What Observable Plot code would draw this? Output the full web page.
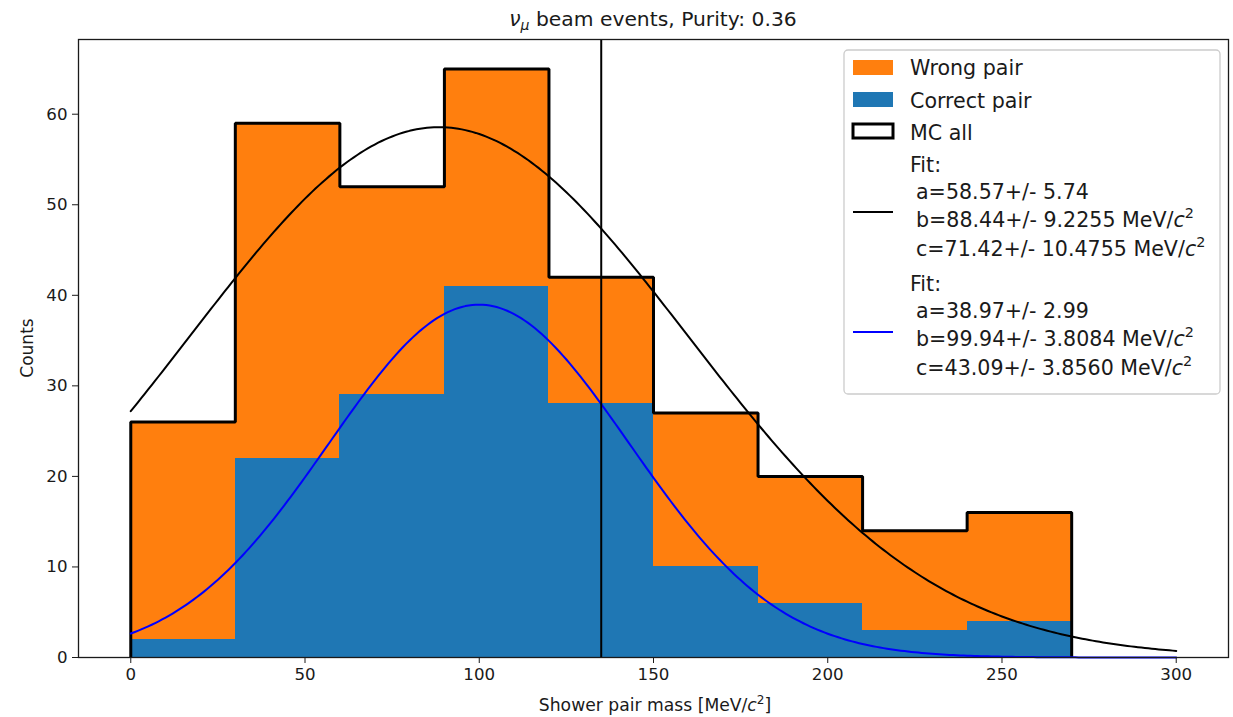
<!DOCTYPE html>
<html><head><meta charset="utf-8">
<script src="https://cdn.jsdelivr.net/npm/d3@7"></script>
<script src="https://cdn.jsdelivr.net/npm/@observablehq/plot@0.6"></script>
<style>
html,body{margin:0;padding:0;background:#fff}
#chart{position:relative;width:1233px;height:717px;font-family:"DejaVu Sans",sans-serif}
#chart > svg{position:absolute;left:0;top:0}
</style></head><body><div id="chart"></div>
<script>
// Histogram bins (MeV/c^2) and counts per bin
const binLow = [0, 30, 60, 90, 120, 150, 180, 210, 240];
const binWidth = 30;
const totalCounts = [26, 59, 52, 65, 42, 27, 20, 14, 16];
const correctCounts = [2, 22, 29, 41, 28, 10, 6, 3, 4];

// Gaussian fit results: a (amplitude), b (mean), c (sigma) with quoted errors
const fitAllParams = [58.57, 88.44, 71.42];
const fitAllErrors = ["5.74", "9.2255", "10.4755"];
const fitCorrectParams = [38.97, 99.94, 43.09];
const fitCorrectErrors = ["2.99", "3.8084", "3.8560"];

const pi0Mass = 135;
const xTicks = [0, 50, 100, 150, 200, 250, 300];
const yTicks = [0, 10, 20, 30, 40, 50, 60];
const purity = "0.36";

const orange = "#ff7f0e", blue = "#1f77b4";

const bins = binLow.map((x, i) => ({x1: x, x2: x + binWidth, total: totalCounts[i], correct: correctCounts[i]}));

// outline of the full MC histogram
const outline = [{x: binLow[0], y: 0}]
  .concat(bins.map(d => ({x: d.x1, y: d.total})))
  .concat([{x: bins[bins.length - 1].x2, y: totalCounts[totalCounts.length - 1]},
           {x: bins[bins.length - 1].x2, y: 0}]);

// fitted Gaussian evaluated over the fit range
function gauss([a, b, c]) {
  return d3.range(0, 300.5, 1).map(x => ({x, y: a * Math.exp(-((x - b) ** 2) / (2 * c * c))}));
}

const plot = Plot.plot({
  width: 1233,
  height: 717,
  marginLeft: 78,
  marginRight: 5,
  marginTop: 39,
  marginBottom: 60,
  style: {fontFamily: "DejaVu Sans, sans-serif", fontSize: "16.67px", color: "#1a1a1a", background: "white"},
  x: {domain: [-15, 315]},
  y: {domain: [0, 68.25]},
  marks: [
    Plot.rect(bins, {x1: "x1", x2: "x2", y1: 0, y2: "total", fill: orange, shapeRendering: "crispEdges"}),
    Plot.rect(bins, {x1: "x1", x2: "x2", y1: 0, y2: "correct", fill: blue, shapeRendering: "crispEdges"}),
    Plot.line(outline, {x: "x", y: "y", curve: "step-after", stroke: "black", strokeWidth: 3, strokeLinejoin: "miter", strokeLinecap: "butt"}),
    Plot.line(gauss(fitAllParams), {x: "x", y: "y", stroke: "black", strokeWidth: 2}),
    Plot.line(gauss(fitCorrectParams), {x: "x", y: "y", stroke: "#0000ff", strokeWidth: 2}),
    Plot.ruleX([pi0Mass], {stroke: "black", strokeWidth: 2}),
    Plot.frame({stroke: "#1a1a1a", strokeWidth: 1.3}),
    Plot.axisX({ticks: xTicks, tickSize: 6, tickPadding: 5, label: null, tickFormat: d => String(d)}),
    Plot.axisY({ticks: yTicks, tickSize: 6, tickPadding: 5, label: null, tickFormat: d => String(d)})
  ]
});
document.getElementById("chart").appendChild(plot);

// Title, axis labels and legend
const svg = d3.select("#chart").append("svg")
  .attr("width", 1233).attr("height", 717)
  .style("pointer-events", "none")
  .attr("font-family", "DejaVu Sans, sans-serif")
  .attr("fill", "#1a1a1a");

const title = svg.append("text").attr("x", 653).attr("y", 26).attr("text-anchor", "middle").attr("font-size", 20.3);
title.append("tspan").attr("font-style", "italic").text("ν");
title.append("tspan").attr("font-style", "italic").attr("font-size", 14).attr("dy", 4).text("μ");
title.append("tspan").attr("dy", -4).text(` beam events, Purity: ${purity}`);

// " MeV/c^2" with italic c and raised 2
function unitTspans(t, size) {
  const rise = Math.round(size * 0.42);
  t.append("tspan").text(" MeV/");
  t.append("tspan").attr("font-style", "italic").text("c");
  t.append("tspan").attr("font-size", size * 0.7).attr("dy", -rise).text("2");
  return rise;
}

const xl = svg.append("text").attr("x", 655).attr("y", 711).attr("text-anchor", "middle").attr("font-size", 17.2);
xl.append("tspan").text("Shower pair mass [MeV/");
xl.append("tspan").attr("font-style", "italic").text("c");
xl.append("tspan").attr("font-size", 12).attr("dy", -7).text("2");
xl.append("tspan").attr("dy", 7).text("]");

svg.append("text").attr("transform", "translate(33,348) rotate(-90)")
  .attr("text-anchor", "middle").attr("font-size", 17).text("Counts");

// legend
const legendSize = 20.6;
const lg = svg.append("g").attr("font-size", legendSize);
lg.append("rect").attr("x", 844).attr("y", 50).attr("width", 376).attr("height", 344).attr("rx", 4)
  .attr("fill", "white").attr("fill-opacity", 0.8).attr("stroke", "#cccccc").attr("stroke-width", 1.3);
lg.append("rect").attr("x", 853).attr("y", 60).attr("width", 40).attr("height", 15).attr("fill", orange);
lg.append("rect").attr("x", 853).attr("y", 92).attr("width", 40).attr("height", 15).attr("fill", blue);
lg.append("rect").attr("x", 853).attr("y", 124).attr("width", 40).attr("height", 14)
  .attr("fill", "none").attr("stroke", "black").attr("stroke-width", 3);
lg.append("line").attr("x1", 853).attr("x2", 893).attr("y1", 212).attr("y2", 212).attr("stroke", "black").attr("stroke-width", 2);
lg.append("line").attr("x1", 853).attr("x2", 893).attr("y1", 332).attr("y2", 332).attr("stroke", "#0000ff").attr("stroke-width", 2);

const simple = [["Wrong pair", 75], ["Correct pair", 108], ["MC all", 140]];
simple.forEach(([s, y]) => lg.append("text").attr("x", 910).attr("y", y).text(s));

function fitBlock(params, errors, y0) {
  lg.append("text").attr("x", 910).attr("y", y0).text("Fit:");
  const names = ["a", "b", "c"];
  const offs = [27, 55, 84];
  names.forEach((n, i) => {
    const t = lg.append("text").attr("x", 916).attr("y", y0 + offs[i]);
    t.append("tspan").text(`${n}=${params[i].toFixed(2)}+/- ${errors[i]}`);
    if (i > 0) unitTspans(t, legendSize);
  });
}
fitBlock(fitAllParams, fitAllErrors, 172);
fitBlock(fitCorrectParams, fitCorrectErrors, 291);
</script></body></html>
